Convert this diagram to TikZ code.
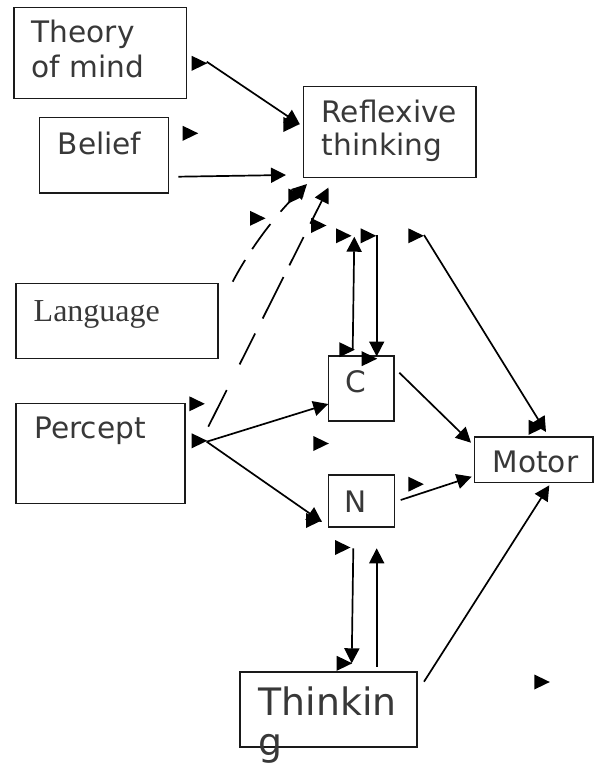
\documentclass[tikz,border=0pt]{standalone}
\usepackage{fontspec}
\setmainfont{DejaVu Sans}
\newfontfamily\langfont{Liberation Serif}
\usetikzlibrary{arrows.meta}
\definecolor{ink}{HTML}{1A1A1A}
\definecolor{txt}{HTML}{383838}

\begin{document}
\begin{tikzpicture}[x=1pt,y=-1pt,
  box/.style={draw=ink, line width=1.6pt, inner sep=0pt},
  lbl/.style={anchor=base west, inner sep=0pt, text=txt, font=\fontsize{29.6}{35}\selectfont},
  biglbl/.style={anchor=base west, inner sep=0pt, text=txt, font=\fontsize{37.8}{44}\selectfont},
  serlbl/.style={anchor=base west, inner sep=0pt, text=txt, font=\langfont\fontsize{32}{37}\selectfont},
  link/.style={line width=1.7pt, draw=black, -{Triangle[length=15pt,width=15pt]}},
  tri/.pic={\fill[black] (0,-7.5) -- (15.5,0) -- (0,7.5) -- cycle;}
]
\useasboundingbox (0,0) rectangle (594,765);

% boxes
\node[box, minimum width=172.5pt, minimum height=91pt]  (theory)    at (100.25,53)   {};
\node[box, minimum width=128.8pt, minimum height=75pt]  (belief)    at (103.9,155.2) {};
\node[box, minimum width=172.7pt, minimum height=90.6pt](reflexive) at (389.65,132)  {};
\node[box, minimum width=202pt,   minimum height=75pt]  (language)  at (116.7,320.8) {};
\node[box, minimum width=169.3pt, minimum height=100pt] (percept)   at (100.35,453.3){};
\node[box, minimum width=65.4pt,  minimum height=65pt]  (c)         at (361,388.2)   {};
\node[box, minimum width=66pt,    minimum height=51.7pt](n)         at (361.3,500.85){};
\node[box, minimum width=118.7pt, minimum height=45.6pt](motor)     at (533.65,459.5){};
\node[box, minimum width=176.7pt, minimum height=75pt]  (thinking)  at (328.35,709.2){};

% labels
\node[lbl] (theory-a)    at (31.5,42.7)  {Theory};
\node[lbl] (theory-b)    at (31.5,77.3)  {of mind};
\node[lbl] (belief-t)    at (57.5,154)   {Belief};
\node[lbl] (reflexive-a) at (321.5,122.3){Reflexive};
\node[lbl] (reflexive-b) at (321.5,155)  {thinking};
\node[serlbl] (language-t) at (33.5,321.7) {Language};
\node[lbl] (percept-t)   at (34.2,438.3) {Percept};
\node[lbl, anchor=base] (c-t) at (355.8,392.7) {C};
\node[lbl, anchor=base] (n-t) at (356,512.3)   {N};
\node[lbl] (motor-t)     at (492.5,472.7){Motor};
\node[biglbl] (thinking-a) at (258.5,715)  {Thinkin};
\node[biglbl] (thinking-b) at (258.5,755)  {g};

% connector end points
\coordinate (tom-o) at (206.7,61.7);   \coordinate (tom-i) at (300,124.5);
\coordinate (bel-o) at (178.3,176.7);  \coordinate (bel-i) at (286,175);
\coordinate (pl-o)  at (208.3,426.7);  \coordinate (pl-i)  at (328.5,187.5);
\coordinate (lg-o)  at (232.7,281.7);  \coordinate (lg-i)  at (307,184);
\coordinate (cu-o)  at (352.7,350);    \coordinate (cu-i)  at (354.3,236.7);
\coordinate (cd-o)  at (376.7,235);    \coordinate (cd-i)  at (376.7,356.5);
\coordinate (rm-o)  at (424,235);      \coordinate (rm-i)  at (546,432);
\coordinate (pc-o)  at (206.7,441.7);  \coordinate (pc-i)  at (328.3,404);
\coordinate (pn-i)  at (322,522);
\coordinate (cm-o)  at (399.3,372.7);  \coordinate (cm-i)  at (471,442.7);
\coordinate (nm-o)  at (400.7,500);    \coordinate (nm-i)  at (471.7,476.7);
\coordinate (tm-o)  at (424,681.7);    \coordinate (tm-i)  at (549.3,485.3);
\coordinate (nt-o)  at (353.3,548.3);  \coordinate (nt-i)  at (351.7,663.3);
\coordinate (tn-o)  at (376.7,666.7);  \coordinate (tn-i)  at (376.7,548.3);

% connectors
\draw[link] (tom-o) -- (tom-i);
\draw[link] (bel-o) -- (bel-i);
\draw[link, dash pattern=on 41pt off 28.7pt on 34.6pt off 16.8pt on 46.4pt off 13.1pt on 31.6pt off 15pt on 60pt off 1pt]
  (pl-o) -- (pl-i);
\draw[link, dash pattern=on 25pt off 13pt on 31pt off 16pt on 40pt off 1pt]
  (lg-o) .. controls (245,258) and (268,223) .. (lg-i);
\draw[link] (cu-o) -- (cu-i);
\draw[link] (cd-o) -- (cd-i);
\draw[link] (rm-o) -- (rm-i);
\draw[link] (pc-o) -- (pc-i);
\draw[link] (pc-o) -- (pn-i);
\draw[link] (cm-o) -- (cm-i);
\draw[link] (nm-o) -- (nm-i);
\draw[link] (tm-o) -- (tm-i);
\draw[link] (nt-o) -- (nt-i);
\draw[link] (tn-o) -- (tn-i);

% loose start markers
\foreach \px/\py in {191.7/63.3, 182.7/133.3, 250/218.3, 311/225.5, 336/235.8,
                     360.7/235.8, 408.3/235.8, 339.3/349.7, 361.7/358.7,
                     189.3/403.8, 191.7/440.8, 313.3/443.5, 408.3/484.2,
                     335/547.5, 336.7/663.3, 534.3/682, 306/520.5,
                     528.7/427.3, 283.3/124.5, 288.3/196}
  \pic at (\px,\py) {tri};
\end{tikzpicture}
\end{document}
